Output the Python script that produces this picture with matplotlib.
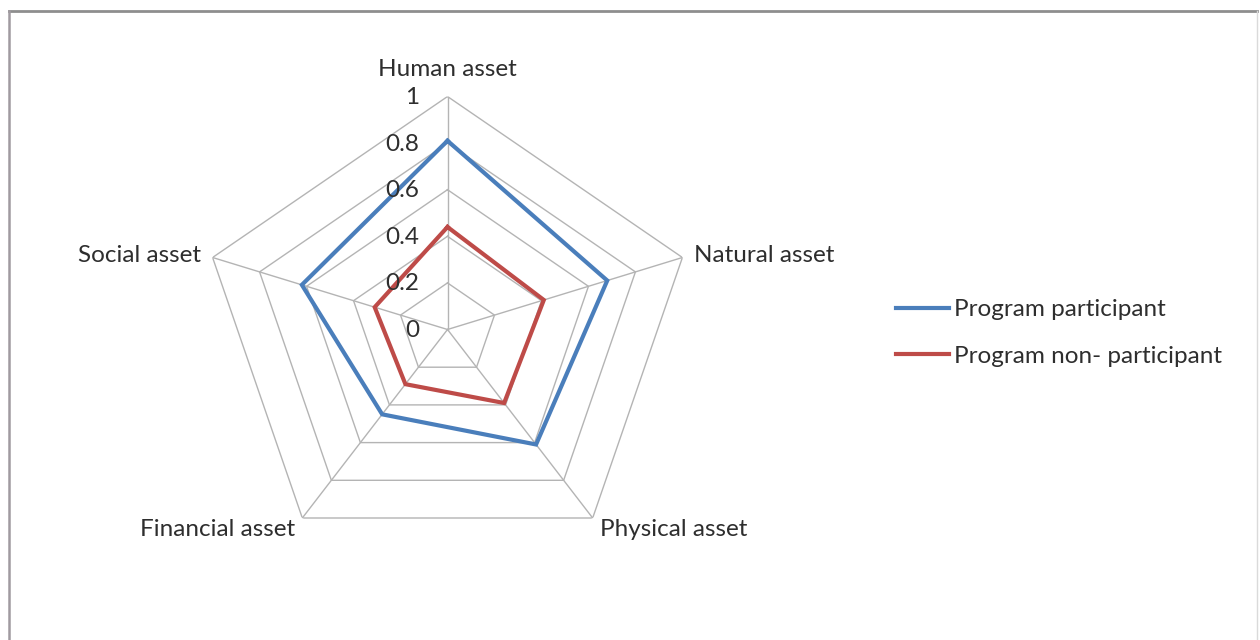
import numpy as np
import matplotlib
matplotlib.use("Agg")
import matplotlib.pyplot as plt
from matplotlib.lines import Line2D
from matplotlib.transforms import offset_copy

plt.rcParams['font.family'] = ['Lato', 'DejaVu Sans']

categories = ['Human asset', 'Natural asset', 'Physical asset', 'Financial asset', 'Social asset']
participant = [0.81, 0.68, 0.61, 0.45, 0.62]
non_participant = [0.44, 0.41, 0.39, 0.29, 0.31]
r_ticks = [0, 0.2, 0.4, 0.6, 0.8, 1.0]
r_tick_labels = ['0', '0.2', '0.4', '0.6', '0.8', '1']
series_names = ['Program participant', 'Program non- participant']

BLUE = '#4A7EBB'
RED = '#BE4B48'
GRID = '#B4B4B4'
TEXT = '#2E2E2E'
FS = 17.5

W, H = 1260, 640
fig = plt.figure(figsize=(W / 100, H / 100), dpi=100)
fig.patch.set_facecolor('white')

# centre and radii (pixels) of the radar
cx, cy = 447.5, 329.5
rx, ry = 247.0, 233.0
ax = fig.add_axes([(cx - rx) / W, (H - cy - ry) / H, 2 * rx / W, 2 * ry / H], projection='polar')
ax.set_aspect('auto')
ax.set_theta_offset(np.pi / 2)
ax.set_theta_direction(-1)
ax.set_ylim(0, 1)
ax.grid(False)
ax.set_xticks([])
ax.set_yticks([])
ax.spines['polar'].set_visible(False)
ax.patch.set_visible(False)

n = len(categories)
angles = np.arange(n) * 2 * np.pi / n
closed = np.concatenate([angles, angles[:1]])

# pentagon grid
for r in r_ticks[1:]:
    ax.plot(closed, [r] * (n + 1), color=GRID, lw=1.0, zorder=1)
for a in angles:
    ax.plot([a, a], [0, 1], color=GRID, lw=1.0, zorder=1)

# series
ax.plot(closed, participant + participant[:1], color=BLUE, lw=3.0,
        solid_joinstyle='miter', zorder=3)
ax.plot(closed, non_participant + non_participant[:1], color=RED, lw=3.0,
        solid_joinstyle='miter', zorder=3)

# radial tick labels
for r, lab in zip(r_ticks, r_tick_labels):
    tr = offset_copy(ax.transData, fig=fig, x=-28, y=-1, units='dots')
    ax.text(0, r, lab, transform=tr, ha='right', va='center', fontsize=FS, color=TEXT)

# category labels
offs = [(0, 27, 'center'), (12, 2, 'left'), (7, -11, 'left'), (-7, -11, 'right'), (-12, 2, 'right')]
for a, lab, (dx, dy, ha) in zip(angles, categories, offs):
    tr = offset_copy(ax.transData, fig=fig, x=dx, y=dy, units='dots')
    ax.text(a, 1.0, lab, transform=tr, ha=ha, va='center', fontsize=FS, color=TEXT)

# legend
handles = [Line2D([], [], color=BLUE, lw=3.0), Line2D([], [], color=RED, lw=3.0)]
fig.legend(handles, series_names, loc='center left',
           bbox_to_anchor=(896 / W, 1 - 333 / H), frameon=False,
           fontsize=FS, handlelength=2.2, handletextpad=0.2,
           labelspacing=1.03, borderpad=0, borderaxespad=0, labelcolor=TEXT)

# outer frame
fig.add_artist(Line2D([9 / W, 1257 / W], [1 - 11 / H, 1 - 11 / H], transform=fig.transFigure,
                      color='#8E8E8E', lw=2.0))
fig.add_artist(Line2D([9 / W, 9 / W], [1 - 11 / H, 0], transform=fig.transFigure,
                      color='#A09AA0', lw=1.8))
fig.add_artist(Line2D([1257 / W, 1257 / W], [1 - 11 / H, 0], transform=fig.transFigure,
                      color='#DADADA', lw=1.0))

fig.savefig('out.png', dpi=100, facecolor='white')
